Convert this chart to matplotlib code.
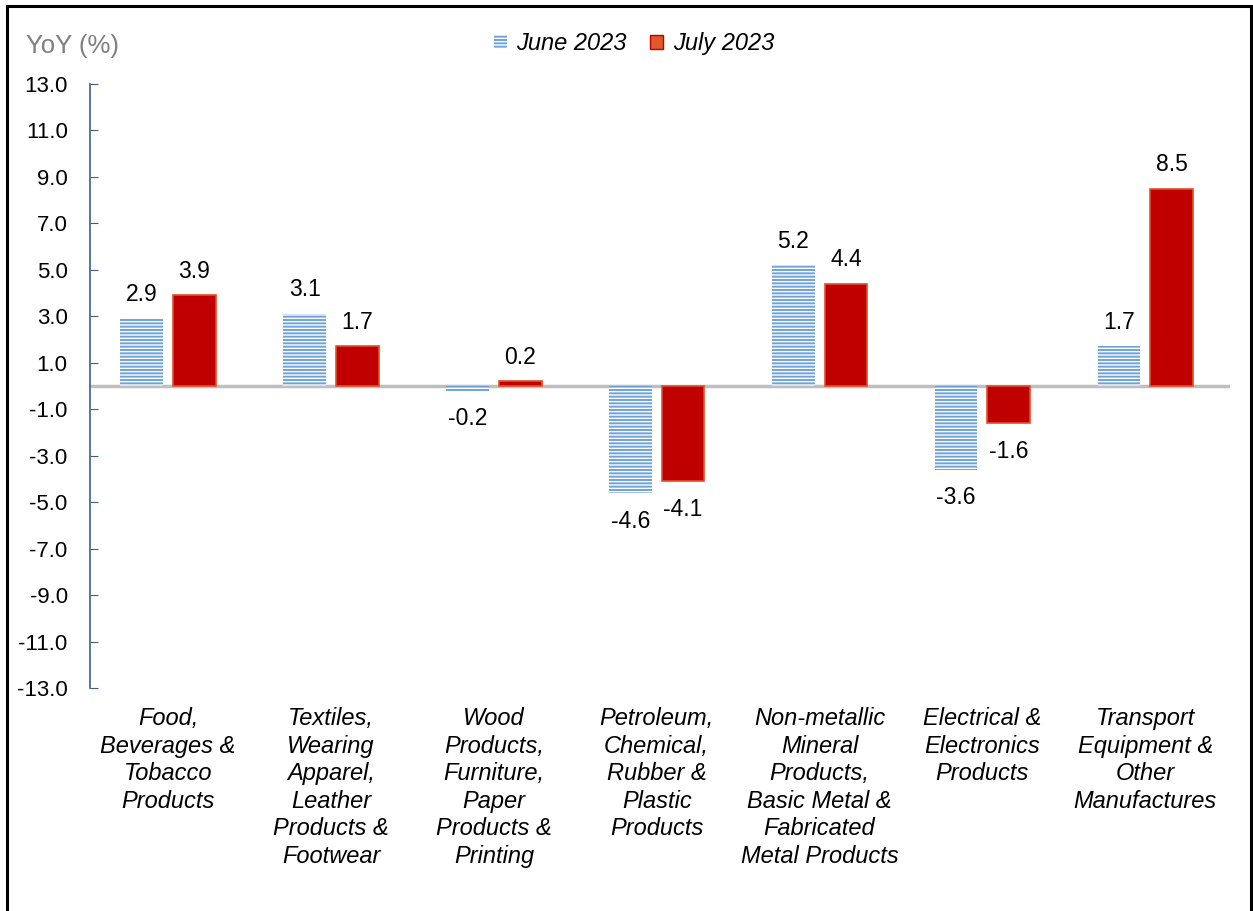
import matplotlib.pyplot as plt
import numpy as np
from matplotlib.lines import Line2D
from matplotlib.patches import Patch

plt.rcParams['font.family'] = ['Liberation Sans', 'DejaVu Sans']
plt.rcParams['hatch.color'] = 'white'
plt.rcParams['hatch.linewidth'] = 1.0

categories = ["Food,\nBeverages &\nTobacco\nProducts",
              "Textiles,\nWearing\nApparel,\nLeather\nProducts &\nFootwear",
              "Wood\nProducts,\nFurniture,\nPaper\nProducts &\nPrinting",
              "Petroleum,\nChemical,\nRubber &\nPlastic\nProducts",
              "Non-metallic\nMineral\nProducts,\nBasic Metal &\nFabricated\nMetal Products",
              "Electrical &\nElectronics\nProducts",
              "Transport\nEquipment &\nOther\nManufactures"]
june = [2.9, 3.1, -0.2, -4.6, 5.2, -3.6, 1.7]
july = [3.9, 1.7, 0.2, -4.1, 4.4, -1.6, 8.5]
yticks = np.arange(-13, 14, 2)

fig = plt.figure(figsize=(12.53, 9.11), dpi=100)
ax = fig.add_axes([0.0718, 0.2448, 0.9098, 0.663])

x = np.arange(len(categories))
w = 0.262
b1 = ax.bar(x - 0.162, june, w, color='#6FA3D8', hatch='-----', edgecolor='white',
            linewidth=0)
b2 = ax.bar(x + 0.162, july, w, color='#C00000', edgecolor='#E0502A',
            linewidth=1.2)

for bars, vals in [(b1, june), (b2, july)]:
    for r, v in zip(bars, vals):
        xc = r.get_x() + r.get_width() / 2
        if v >= 0:
            ax.annotate(f"{v:.1f}", (xc, v), xytext=(0, 9), textcoords='offset points',
                        ha='center', va='bottom', fontsize=16.5)
        else:
            ax.annotate(f"{v:.1f}", (xc, v), xytext=(0, -12), textcoords='offset points',
                        ha='center', va='top', fontsize=16.5)

ax.axhline(0, color='#BFBFBF', lw=2.5, zorder=0)
ax.set_xlim(-0.48, len(categories) - 0.48)
ax.set_ylim(-13, 13)
ax.set_yticks(yticks)
ax.set_yticklabels([f"{t:.1f}" for t in yticks], fontsize=16)
ax.set_xticks(x)
ax.set_xticklabels(categories, fontsize=17, style='italic', linespacing=1.25)
ax.tick_params(axis='x', length=0, pad=14)
ax.tick_params(axis='y', direction='in', length=6, color='#3D5F8F', pad=16)
for s in ['top', 'right', 'bottom']:
    ax.spines[s].set_visible(False)
ax.spines['left'].set_color('#3D5F8F')
ax.spines['left'].set_linewidth(1.2)

fig.text(0.021, 0.949, "YoY (%)", color='#7F7F7F', fontsize=18.5, va='center')
h1 = Patch(facecolor='#6FA3D8', hatch='-----', edgecolor='white', linewidth=0)
h2 = Patch(facecolor='#E0592A', edgecolor='#C00000', linewidth=1.0)
fig.legend(handles=[h1, h2], labels=['June 2023', 'July 2023'], loc='center',
           bbox_to_anchor=(0.506, 0.952), ncol=2, frameon=False,
           prop={'style': 'italic', 'size': 17}, handlelength=0.55,
           handleheight=0.55, columnspacing=1.0, handletextpad=0.4)

# outer frame
fig.add_artist(Line2D([0.0058, 0.0058], [0, 0.9935], color='black', lw=2.2))
fig.add_artist(Line2D([0.0058, 0.9985], [0.9935, 0.9935], color='black', lw=2.2))
fig.add_artist(Line2D([0.9985, 0.9985], [0, 0.9935], color='black', lw=2.2))

fig.savefig('out.png', dpi=100)
